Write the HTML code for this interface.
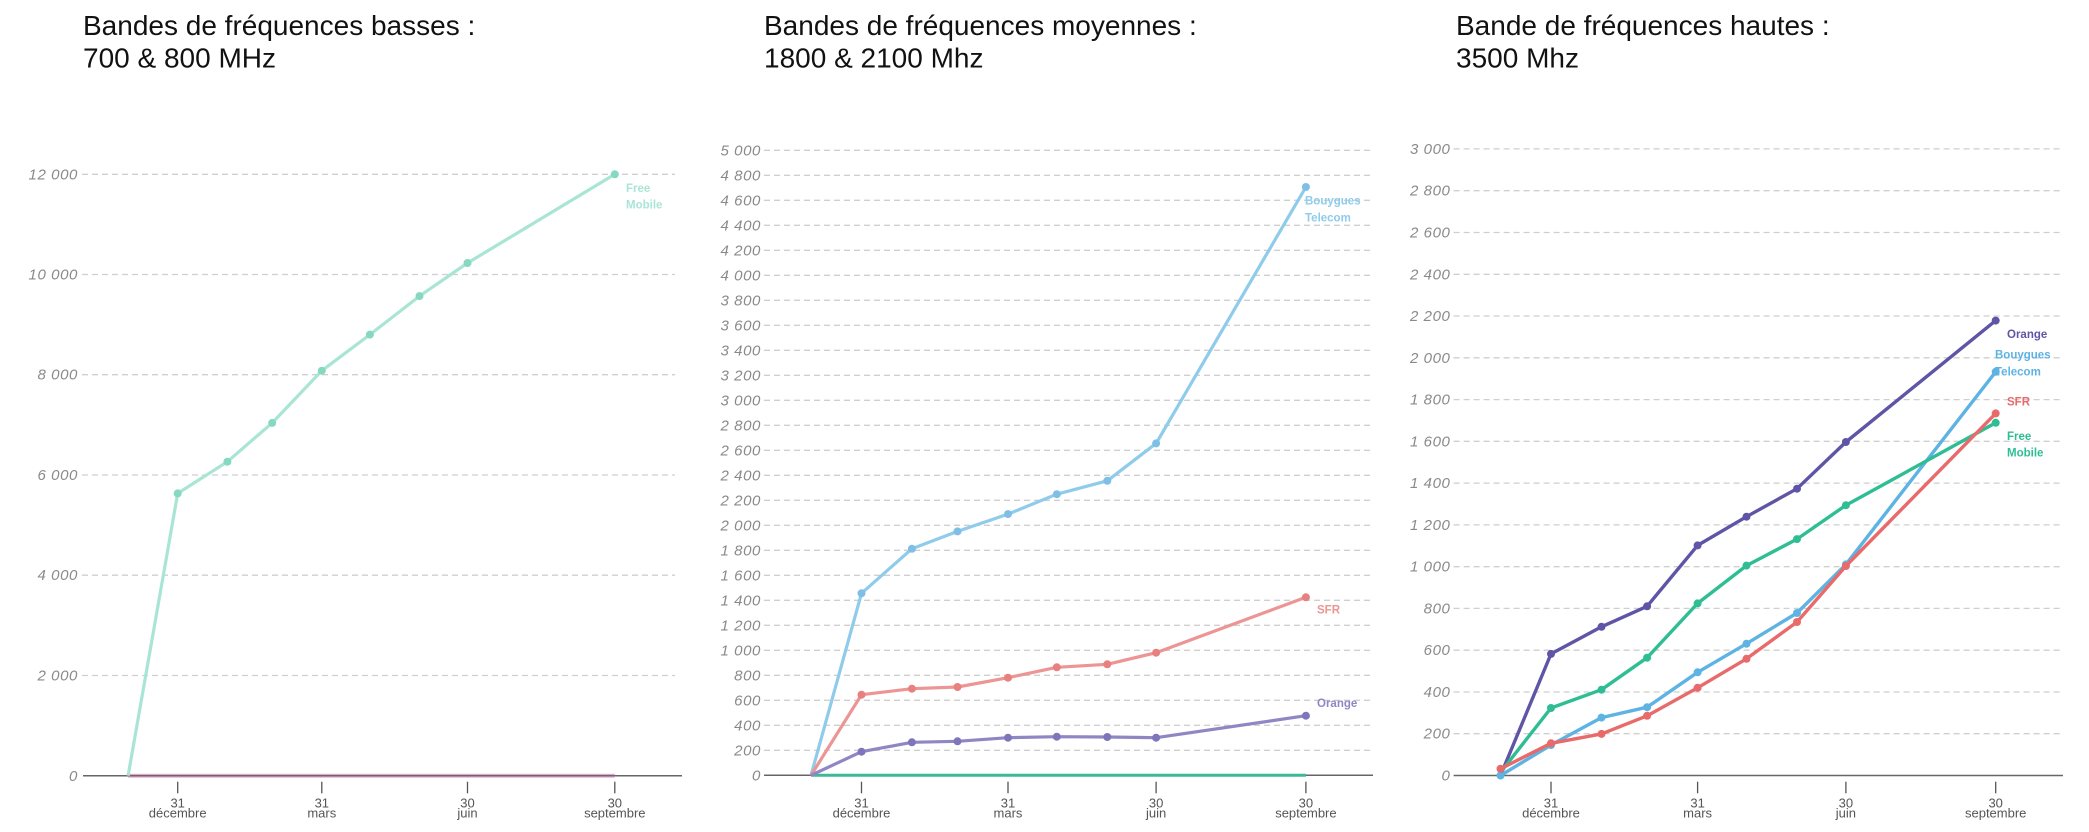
<!DOCTYPE html>
<html><head><meta charset="utf-8"><style>
html,body{margin:0;padding:0;background:#fff;}
svg{display:block;}
.t{font-family:"Liberation Sans",Arial,sans-serif;font-size:28px;fill:#111;}
.yl{font-family:"Liberation Sans",Arial,sans-serif;font-size:15px;font-style:italic;fill:#8a8a8a;text-anchor:end;letter-spacing:0.6px;}
.xl{font-family:"Liberation Sans",Arial,sans-serif;font-size:13px;fill:#555;text-anchor:middle;}
.lb{font-family:"Liberation Sans",Arial,sans-serif;font-size:11.5px;font-weight:bold;}
.g{stroke:#cfcfcf;stroke-width:1.3;stroke-dasharray:6 4;fill:none;}
.ax{stroke:#666;stroke-width:1.5;}
.tk{stroke:#555;stroke-width:1.3;}
</style></head><body>
<svg width="2089" height="832" viewBox="0 0 2089 832" xmlns="http://www.w3.org/2000/svg">
<!-- Titles -->
<text class="t" x="83" y="35">Bandes de fréquences basses :</text>
<text class="t" x="83" y="67.7">700 &amp; 800 MHz</text>
<text class="t" x="764" y="35">Bandes de fréquences moyennes :</text>
<text class="t" x="764" y="67.7">1800 &amp; 2100 Mhz</text>
<text class="t" x="1456" y="35">Bande de fréquences hautes :</text>
<text class="t" x="1456" y="67.7">3500 Mhz</text>

<!-- ========== PANEL 1 ========== -->
<g>
<line class="g" x1="82" y1="675.5" x2="675" y2="675.5"/>
<line class="g" x1="82" y1="575.2" x2="675" y2="575.2"/>
<line class="g" x1="82" y1="475.0" x2="675" y2="475.0"/>
<line class="g" x1="82" y1="374.7" x2="675" y2="374.7"/>
<line class="g" x1="82" y1="274.5" x2="675" y2="274.5"/>
<line class="g" x1="82" y1="174.3" x2="675" y2="174.3"/>
<text class="yl" x="78" y="781">0</text>
<text class="yl" x="78" y="680.5">2 000</text>
<text class="yl" x="78" y="580.2">4 000</text>
<text class="yl" x="78" y="480">6 000</text>
<text class="yl" x="78" y="379.7">8 000</text>
<text class="yl" x="78" y="279.5">10 000</text>
<text class="yl" x="78" y="179.3">12 000</text>
<line class="ax" x1="83" y1="775.7" x2="682" y2="775.7"/>
<line x1="128.1" y1="775.7" x2="614.8" y2="775.7" stroke="#e3b9cc" stroke-width="4"/>
<line x1="128.1" y1="775.7" x2="614.8" y2="775.7" stroke="#7d5c78" stroke-width="1.6"/>
<polyline fill="none" stroke="#a9e5d5" stroke-width="3.2" stroke-linejoin="round" points="128.1,775.7 177.7,493.4 227.4,461.7 272.2,422.9 321.8,370.7 369.9,334.6 419.5,296.1 467.5,263.0 614.8,174.3"/>
<g fill="#86d8c0">
<circle cx="177.7" cy="493.4" r="4"/><circle cx="227.4" cy="461.7" r="4"/><circle cx="272.2" cy="422.9" r="4"/><circle cx="321.8" cy="370.7" r="4"/><circle cx="369.9" cy="334.6" r="4"/><circle cx="419.5" cy="296.1" r="4"/><circle cx="467.5" cy="263.0" r="4"/><circle cx="614.8" cy="174.3" r="4"/>
</g>
<text class="lb" x="626" y="192" fill="#a9e5d5">Free</text>
<text class="lb" x="626" y="208.5" fill="#a9e5d5">Mobile</text>
<line class="tk" x1="177.7" y1="781.7" x2="177.7" y2="793.3"/>
<line class="tk" x1="321.8" y1="781.7" x2="321.8" y2="793.3"/>
<line class="tk" x1="467.5" y1="781.7" x2="467.5" y2="793.3"/>
<line class="tk" x1="614.8" y1="781.7" x2="614.8" y2="793.3"/>
<text class="xl" x="177.7" y="807.5">31</text><text class="xl" x="177.7" y="817.5">décembre</text>
<text class="xl" x="321.8" y="807.5">31</text><text class="xl" x="321.8" y="817.5">mars</text>
<text class="xl" x="467.5" y="807.5">30</text><text class="xl" x="467.5" y="817.5">juin</text>
<text class="xl" x="614.8" y="807.5">30</text><text class="xl" x="614.8" y="817.5">septembre</text>
</g>

<!-- ========== PANEL 2 ========== -->
<g>
<line class="g" x1="764" y1="750.3" x2="1373" y2="750.3"/>
<line class="g" x1="764" y1="725.3" x2="1373" y2="725.3"/>
<line class="g" x1="764" y1="700.3" x2="1373" y2="700.3"/>
<line class="g" x1="764" y1="675.3" x2="1373" y2="675.3"/>
<line class="g" x1="764" y1="650.3" x2="1373" y2="650.3"/>
<line class="g" x1="764" y1="625.3" x2="1373" y2="625.3"/>
<line class="g" x1="764" y1="600.3" x2="1373" y2="600.3"/>
<line class="g" x1="764" y1="575.3" x2="1373" y2="575.3"/>
<line class="g" x1="764" y1="550.3" x2="1373" y2="550.3"/>
<line class="g" x1="764" y1="525.3" x2="1373" y2="525.3"/>
<line class="g" x1="764" y1="500.3" x2="1373" y2="500.3"/>
<line class="g" x1="764" y1="475.3" x2="1373" y2="475.3"/>
<line class="g" x1="764" y1="450.3" x2="1373" y2="450.3"/>
<line class="g" x1="764" y1="425.3" x2="1373" y2="425.3"/>
<line class="g" x1="764" y1="400.3" x2="1373" y2="400.3"/>
<line class="g" x1="764" y1="375.3" x2="1373" y2="375.3"/>
<line class="g" x1="764" y1="350.3" x2="1373" y2="350.3"/>
<line class="g" x1="764" y1="325.3" x2="1373" y2="325.3"/>
<line class="g" x1="764" y1="300.3" x2="1373" y2="300.3"/>
<line class="g" x1="764" y1="275.3" x2="1373" y2="275.3"/>
<line class="g" x1="764" y1="250.3" x2="1373" y2="250.3"/>
<line class="g" x1="764" y1="225.3" x2="1373" y2="225.3"/>
<line class="g" x1="764" y1="200.3" x2="1373" y2="200.3"/>
<line class="g" x1="764" y1="175.3" x2="1373" y2="175.3"/>
<line class="g" x1="764" y1="150.3" x2="1373" y2="150.3"/>
<text class="yl" x="761" y="780.3">0</text>
<text class="yl" x="761" y="755.3">200</text>
<text class="yl" x="761" y="730.3">400</text>
<text class="yl" x="761" y="705.3">600</text>
<text class="yl" x="761" y="680.3">800</text>
<text class="yl" x="761" y="655.3">1 000</text>
<text class="yl" x="761" y="630.3">1 200</text>
<text class="yl" x="761" y="605.3">1 400</text>
<text class="yl" x="761" y="580.3">1 600</text>
<text class="yl" x="761" y="555.3">1 800</text>
<text class="yl" x="761" y="530.3">2 000</text>
<text class="yl" x="761" y="505.3">2 200</text>
<text class="yl" x="761" y="480.3">2 400</text>
<text class="yl" x="761" y="455.3">2 600</text>
<text class="yl" x="761" y="430.3">2 800</text>
<text class="yl" x="761" y="405.3">3 000</text>
<text class="yl" x="761" y="380.3">3 200</text>
<text class="yl" x="761" y="355.3">3 400</text>
<text class="yl" x="761" y="330.3">3 600</text>
<text class="yl" x="761" y="305.3">3 800</text>
<text class="yl" x="761" y="280.3">4 000</text>
<text class="yl" x="761" y="255.3">4 200</text>
<text class="yl" x="761" y="230.3">4 400</text>
<text class="yl" x="761" y="205.3">4 600</text>
<text class="yl" x="761" y="180.3">4 800</text>
<text class="yl" x="761" y="155.3">5 000</text>
<line class="ax" x1="764" y1="775.3" x2="1373" y2="775.3"/>
<line x1="811" y1="775.3" x2="1305.9" y2="775.3" stroke="#3cb996" stroke-width="3"/>
<polyline fill="none" stroke="#8fcbea" stroke-width="3.2" stroke-linejoin="round" points="811,775.3 861.5,593.3 911.9,548.8 957.5,531.4 1008.0,514.1 1056.8,494.2 1107.3,480.8 1156.1,443.4 1305.9,187.0"/>
<g fill="#7fbfe6">
<circle cx="861.5" cy="593.3" r="4"/><circle cx="911.9" cy="548.8" r="4"/><circle cx="957.5" cy="531.4" r="4"/><circle cx="1008.0" cy="514.1" r="4"/><circle cx="1056.8" cy="494.2" r="4"/><circle cx="1107.3" cy="480.8" r="4"/><circle cx="1156.1" cy="443.4" r="4"/><circle cx="1305.9" cy="187.0" r="4"/>
</g>
<polyline fill="none" stroke="#ec9594" stroke-width="3.2" stroke-linejoin="round" points="811,775.3 861.5,694.7 911.9,688.7 957.5,687.0 1008.0,677.7 1056.8,667.3 1107.3,664.3 1156.1,652.7 1305.9,597.3"/>
<g fill="#e8807f">
<circle cx="861.5" cy="694.7" r="4"/><circle cx="911.9" cy="688.7" r="4"/><circle cx="957.5" cy="687.0" r="4"/><circle cx="1008.0" cy="677.7" r="4"/><circle cx="1056.8" cy="667.3" r="4"/><circle cx="1107.3" cy="664.3" r="4"/><circle cx="1156.1" cy="652.7" r="4"/><circle cx="1305.9" cy="597.3" r="4"/>
</g>
<polyline fill="none" stroke="#8f87c4" stroke-width="3.2" stroke-linejoin="round" points="811,775.3 861.5,751.7 911.9,742.3 957.5,741.3 1008.0,737.7 1056.8,736.7 1107.3,737.0 1156.1,737.7 1305.9,715.7"/>
<g fill="#7d76bb">
<circle cx="861.5" cy="751.7" r="4"/><circle cx="911.9" cy="742.3" r="4"/><circle cx="957.5" cy="741.3" r="4"/><circle cx="1008.0" cy="737.7" r="4"/><circle cx="1056.8" cy="736.7" r="4"/><circle cx="1107.3" cy="737.0" r="4"/><circle cx="1156.1" cy="737.7" r="4"/><circle cx="1305.9" cy="715.7" r="4"/>
</g>
<text class="lb" x="1305" y="204.5" fill="#8fcbea">Bouygues</text>
<text class="lb" x="1305" y="221.5" fill="#8fcbea">Telecom</text>
<text class="lb" x="1317" y="613.5" fill="#ec9594">SFR</text>
<text class="lb" x="1317" y="707" fill="#8f87c4">Orange</text>
<line class="tk" x1="861.5" y1="781.7" x2="861.5" y2="793.3"/>
<line class="tk" x1="1008" y1="781.7" x2="1008" y2="793.3"/>
<line class="tk" x1="1156.1" y1="781.7" x2="1156.1" y2="793.3"/>
<line class="tk" x1="1305.9" y1="781.7" x2="1305.9" y2="793.3"/>
<text class="xl" x="861.5" y="807.5">31</text><text class="xl" x="861.5" y="817.5">décembre</text>
<text class="xl" x="1008" y="807.5">31</text><text class="xl" x="1008" y="817.5">mars</text>
<text class="xl" x="1156.1" y="807.5">30</text><text class="xl" x="1156.1" y="817.5">juin</text>
<text class="xl" x="1305.9" y="807.5">30</text><text class="xl" x="1305.9" y="817.5">septembre</text>
</g>

<!-- ========== PANEL 3 ========== -->
<g>
<line class="g" x1="1453.6" y1="733.7" x2="2062" y2="733.7"/>
<line class="g" x1="1453.6" y1="692.0" x2="2062" y2="692.0"/>
<line class="g" x1="1453.6" y1="650.2" x2="2062" y2="650.2"/>
<line class="g" x1="1453.6" y1="608.4" x2="2062" y2="608.4"/>
<line class="g" x1="1453.6" y1="566.7" x2="2062" y2="566.7"/>
<line class="g" x1="1453.6" y1="524.9" x2="2062" y2="524.9"/>
<line class="g" x1="1453.6" y1="483.1" x2="2062" y2="483.1"/>
<line class="g" x1="1453.6" y1="441.3" x2="2062" y2="441.3"/>
<line class="g" x1="1453.6" y1="399.6" x2="2062" y2="399.6"/>
<line class="g" x1="1453.6" y1="357.8" x2="2062" y2="357.8"/>
<line class="g" x1="1453.6" y1="316.0" x2="2062" y2="316.0"/>
<line class="g" x1="1453.6" y1="274.3" x2="2062" y2="274.3"/>
<line class="g" x1="1453.6" y1="232.5" x2="2062" y2="232.5"/>
<line class="g" x1="1453.6" y1="190.7" x2="2062" y2="190.7"/>
<line class="g" x1="1453.6" y1="148.9" x2="2062" y2="148.9"/>
<text class="yl" x="1450.5" y="780.5">0</text>
<text class="yl" x="1450.5" y="738.7">200</text>
<text class="yl" x="1450.5" y="697">400</text>
<text class="yl" x="1450.5" y="655.2">600</text>
<text class="yl" x="1450.5" y="613.4">800</text>
<text class="yl" x="1450.5" y="571.7">1 000</text>
<text class="yl" x="1450.5" y="529.9">1 200</text>
<text class="yl" x="1450.5" y="488.1">1 400</text>
<text class="yl" x="1450.5" y="446.3">1 600</text>
<text class="yl" x="1450.5" y="404.6">1 800</text>
<text class="yl" x="1450.5" y="362.8">2 000</text>
<text class="yl" x="1450.5" y="321">2 200</text>
<text class="yl" x="1450.5" y="279.3">2 400</text>
<text class="yl" x="1450.5" y="237.5">2 600</text>
<text class="yl" x="1450.5" y="195.7">2 800</text>
<text class="yl" x="1450.5" y="153.9">3 000</text>
<line class="ax" x1="1453.6" y1="775.5" x2="2063" y2="775.5"/>
<!-- Orange -->
<polyline fill="none" stroke="#5f55a6" stroke-width="3.4" stroke-linejoin="round" points="1500.5,775.5 1551.0,653.9 1601.5,626.8 1647.1,606.3 1697.6,545.4 1746.5,516.7 1797.0,488.7 1845.9,442.0 1995.7,320.6"/>
<g fill="#5f55a6">
<circle cx="1551.0" cy="653.9" r="4"/><circle cx="1601.5" cy="626.8" r="4"/><circle cx="1647.1" cy="606.3" r="4"/><circle cx="1697.6" cy="545.4" r="4"/><circle cx="1746.5" cy="516.7" r="4"/><circle cx="1797.0" cy="488.7" r="4"/><circle cx="1845.9" cy="442.0" r="4"/><circle cx="1995.7" cy="320.6" r="4"/>
</g>
<!-- Bouygues -->
<polyline fill="none" stroke="#5db3e3" stroke-width="3.4" stroke-linejoin="round" points="1500.5,775.5 1551.0,745.0 1601.5,717.6 1647.1,707.2 1697.6,672.3 1746.5,643.7 1797.0,613.0 1845.9,564.4 1995.7,371.8"/>
<g fill="#5db3e3">
<circle cx="1500.5" cy="775.5" r="4"/><circle cx="1551.0" cy="745.0" r="4"/><circle cx="1601.5" cy="717.6" r="4"/><circle cx="1647.1" cy="707.2" r="4"/><circle cx="1697.6" cy="672.3" r="4"/><circle cx="1746.5" cy="643.7" r="4"/><circle cx="1797.0" cy="613.0" r="4"/><circle cx="1845.9" cy="564.4" r="4"/><circle cx="1995.7" cy="371.8" r="4"/>
</g>
<!-- Free -->
<polyline fill="none" stroke="#2fbe93" stroke-width="3.4" stroke-linejoin="round" points="1500.5,772.4 1551.0,708.0 1601.5,689.7 1647.1,657.7 1697.6,603.4 1746.5,565.6 1797.0,539.1 1845.9,505.2 1995.7,422.8"/>
<g fill="#2fbe93">
<circle cx="1551.0" cy="708.0" r="4"/><circle cx="1601.5" cy="689.7" r="4"/><circle cx="1647.1" cy="657.7" r="4"/><circle cx="1697.6" cy="603.4" r="4"/><circle cx="1746.5" cy="565.6" r="4"/><circle cx="1797.0" cy="539.1" r="4"/><circle cx="1845.9" cy="505.2" r="4"/><circle cx="1995.7" cy="422.8" r="4"/>
</g>
<!-- SFR -->
<polyline fill="none" stroke="#e86a6b" stroke-width="3.4" stroke-linejoin="round" points="1500.5,768.8 1551.0,743.3 1601.5,733.9 1647.1,715.8 1697.6,687.8 1746.5,658.8 1797.0,622.0 1845.9,566.0 1995.7,413.4"/>
<g fill="#e86a6b">
<circle cx="1500.5" cy="768.8" r="4"/><circle cx="1551.0" cy="743.3" r="4"/><circle cx="1601.5" cy="733.9" r="4"/><circle cx="1647.1" cy="715.8" r="4"/><circle cx="1697.6" cy="687.8" r="4"/><circle cx="1746.5" cy="658.8" r="4"/><circle cx="1797.0" cy="622.0" r="4"/><circle cx="1845.9" cy="566.0" r="4"/><circle cx="1995.7" cy="413.4" r="4"/>
</g>
<text class="lb" x="2007" y="338" fill="#5f55a6">Orange</text>
<text class="lb" x="1995" y="358.5" fill="#5db3e3">Bouygues</text>
<text class="lb" x="1995" y="375.5" fill="#5db3e3">Telecom</text>
<text class="lb" x="2007" y="405.5" fill="#e86a6b">SFR</text>
<text class="lb" x="2007" y="440" fill="#2fbe93">Free</text>
<text class="lb" x="2007" y="456.5" fill="#2fbe93">Mobile</text>
<line class="tk" x1="1551" y1="781.7" x2="1551" y2="793.3"/>
<line class="tk" x1="1697.6" y1="781.7" x2="1697.6" y2="793.3"/>
<line class="tk" x1="1845.9" y1="781.7" x2="1845.9" y2="793.3"/>
<line class="tk" x1="1995.7" y1="781.7" x2="1995.7" y2="793.3"/>
<text class="xl" x="1551" y="807.5">31</text><text class="xl" x="1551" y="817.5">décembre</text>
<text class="xl" x="1697.6" y="807.5">31</text><text class="xl" x="1697.6" y="817.5">mars</text>
<text class="xl" x="1845.9" y="807.5">30</text><text class="xl" x="1845.9" y="817.5">juin</text>
<text class="xl" x="1995.7" y="807.5">30</text><text class="xl" x="1995.7" y="817.5">septembre</text>
</g>
</svg>
</body></html>
